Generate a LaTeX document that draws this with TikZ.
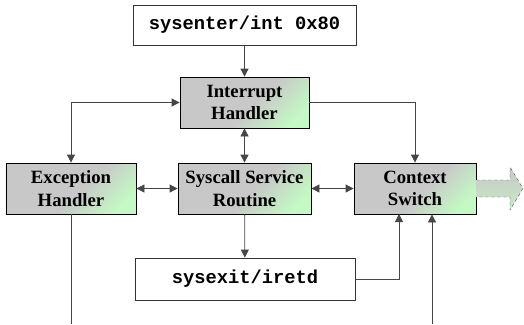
\documentclass[tikz,border=0pt]{standalone}
\usepackage{fontspec}
\setmainfont{Liberation Serif}
\setmonofont{Liberation Mono}
\usepackage{tikz}
\usetikzlibrary{arrows.meta}

\definecolor{boxgray}{RGB}{200,200,200}
\definecolor{boxgreen}{RGB}{196,248,196}
\definecolor{linegray}{RGB}{70,70,70}
\pgfdeclareverticalshading{stageshade}{100bp}{color(0bp)=(boxgreen); color(24bp)=(boxgreen);
  color(46bp)=(boxgray); color(100bp)=(boxgray)}

\begin{document}
\begin{tikzpicture}[x=1bp, y=-1bp,
    >={Triangle[length=8bp,width=8bp]},
    stage/.style={draw=black, thick, shading=stageshade, shading angle=45, align=center, inner sep=0pt,
      minimum height=51bp, font=\fontsize{18.8}{22.5}\selectfont\bfseries},
    code/.style={draw=black!80, thick, fill=white, inner sep=0pt,
      font=\fontsize{18.8}{22.5}\selectfont\ttfamily\bfseries},
    link/.style={draw=linegray, thick}]
  \useasboundingbox (0,0) rectangle (524,324);
  % boxes
  \node [code, minimum width=223bp, minimum height=40bp] (enter) at (244.5,25) {sysenter/int 0x80};
  \node [stage, minimum width=129bp] (intr) at (244.5,102.5) {Interrupt\\Handler};
  \node [stage, minimum width=130bp] (exc) at (71,188.5) {Exception\\Handler};
  \node [stage, minimum width=133bp] (sys) at (244.5,188.5) {Syscall Service\\Routine};
  \node [stage, minimum width=122bp] (ctx) at (415,188.5) {Context\\Switch};
  \node [code, minimum width=220bp, minimum height=42bp] (exit) at (245,279) {sysexit/iretd};
  \coordinate (ctxin) at (399,214);
  \coordinate (cbot) at (432,324);
  \coordinate (ebot) at (71,324);
  % connectors
  \draw [link, ->] (enter) -- (intr);
  \draw [link, <->] (intr.west) -| (exc.north);
  \draw [link, ->] (intr.east) -| (ctx.north);
  \draw [link, <->] (intr) -- (sys);
  \draw [link, <->] (exc) -- (sys);
  \draw [link, <->] (sys) -- (ctx);
  \draw [link, ->] (sys) -- (exit);
  \draw [link, ->] (exit.east) -| (ctxin);
  \draw [link, ->] (cbot) -- (cbot |- ctx.south);
  \draw [link] (exc.south) -- (ebot);
  % outgoing arrow
  \draw [dashed, draw=black!70, shade, top color=boxgray, bottom color=boxgreen!70!boxgray]
    (ctx.east |- 0,180) -- (510,180) -- (510,167) -- (523,188.5) -- (510,210)
    -- (510,197) -- (ctx.east |- 0,197);
\end{tikzpicture}
\end{document}
